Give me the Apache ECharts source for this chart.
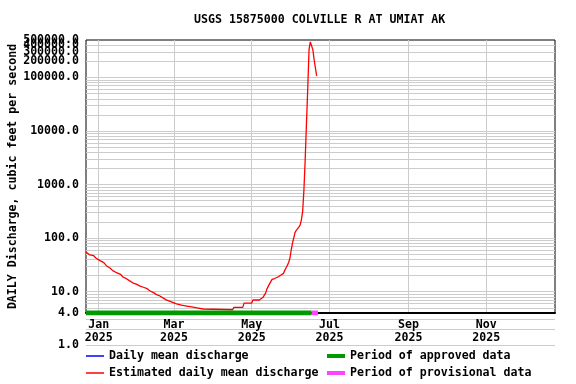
<!DOCTYPE html>
<html>
<head>
<meta charset="utf-8">
<script src="https://cdn.jsdelivr.net/npm/echarts@6/dist/echarts.min.js"></script>
<style>html,body{margin:0;padding:0;background:#fff}#c{width:576px;height:384px}</style>
</head>
<body>
<div id="c"></div>
<script>
const titleText = 'USGS 15875000 COLVILLE R AT UMIAT AK';
const yAxisName = 'DAILY Discharge, cubic feet per second';

// Estimated daily mean discharge
const estDates = [
  '2024-12-22','2024-12-25','2024-12-28','2024-12-30','2025-01-02','2025-01-05','2025-01-07','2025-01-10',
  '2025-01-12','2025-01-15','2025-01-18','2025-01-20','2025-01-23','2025-01-25','2025-01-28','2025-01-31',
  '2025-02-02','2025-02-05','2025-02-08','2025-02-10','2025-02-13','2025-02-15','2025-02-18','2025-02-21',
  '2025-02-23','2025-02-26','2025-03-01','2025-03-03','2025-03-07','2025-03-11','2025-03-15','2025-03-19',
  '2025-03-24','2025-03-25','2025-04-16','2025-04-17','2025-04-24','2025-04-25','2025-05-01','2025-05-02',
  '2025-05-07','2025-05-10','2025-05-12','2025-05-13','2025-05-15','2025-05-17','2025-05-19','2025-05-22',
  '2025-05-24','2025-05-26','2025-05-27','2025-05-28','2025-05-29','2025-05-30','2025-05-31','2025-06-01',
  '2025-06-02','2025-06-03','2025-06-04','2025-06-05','2025-06-06','2025-06-07','2025-06-08','2025-06-09',
  '2025-06-10','2025-06-11','2025-06-12','2025-06-13','2025-06-14','2025-06-15','2025-06-16','2025-06-17',
  '2025-06-18','2025-06-19','2025-06-20','2025-06-21'
];
const estValues = [
  55, 48.5, 47, 42, 38, 34.8, 30.6, 27.4,
  24.7, 22.6, 21.1, 18.8, 17.3, 16.1, 14.5, 13.7,
  12.8, 12.1, 11.4, 10.4, 9.6, 8.9, 8.3, 7.5,
  7.0, 6.6, 6.2, 5.9, 5.6, 5.4, 5.2, 5.0,
  4.75, 4.6, 4.6, 5.1, 5.1, 6.1, 6.1, 7.0,
  7.0, 7.9, 9.5, 11.3, 14.0, 17.0, 17.6, 19.0,
  20.5, 22, 25, 28, 31, 35, 42, 60,
  80, 100, 127, 140, 150, 160, 175, 220,
  313, 800, 3000, 14000, 63000, 330000, 460000, 460000,
  330000, 214000, 150000, 107000
];
// Daily mean discharge (approved) - none shown
const dailyDates = [];
const dailyValues = [];

const approvedPeriod = ['2024-12-22', '2025-06-17'];
const provisionalPeriod = ['2025-06-17', '2025-06-22'];
const periodLevel = 4;

const xMin = '2024-12-22';
const xMax = '2025-12-25';
const xTickDates = ['2025-01-01','2025-03-01','2025-05-01','2025-07-01','2025-09-01','2025-11-01'];
const monthNames = ['Jan','Feb','Mar','Apr','May','Jun','Jul','Aug','Sep','Oct','Nov','Dec'];

const yMin = 4, yMax = 500000;
const yLabelValues = [4, 10, 100, 1000, 10000, 100000, 200000, 499000];
const yLabelValuesB = [300000];
const yLabelValuesC = [400000];
const yGridValues = [5,6,7,8,9,10,20,30,40,50,60,70,80,90,100,200,300,400,500,600,700,800,900,
  1000,2000,3000,4000,5000,6000,7000,8000,9000,10000,20000,30000,40000,50000,60000,70000,80000,90000,
  100000,200000,300000,400000];
const yBelowGridValues = [1, 2, 3];
const yBelowLabelValues = [1];

const ts = s => { const p = s.split('-').map(Number); return new Date(p[0], p[1] - 1, p[2]).getTime(); };

const FONT = 'DejaVu Sans Mono';
const FS = 11.6;
const txt = { fontFamily: FONT, fontWeight: 'bold', fontSize: FS, color: '#000' };
const GRID_COLOR = '#cccccc';
const fmtY = v => (v >= 100000 ? Math.round(v / 100000) * 100000 : Math.round(v)).toFixed(1);

const extraLabelAxis = vals => ({
  type: 'log', gridIndex: 0, min: yMin, max: yMax, position: 'left', offset: 0,
  axisLine: { show: false }, axisTick: { show: false }, splitLine: { show: false },
  axisLabel: Object.assign({}, txt, { customValues: vals, margin: 7, hideOverlap: false, formatter: fmtY })
});

const chart = echarts.init(document.getElementById('c'), null, { renderer: 'canvas' });
chart.setOption({
  animation: false,
  backgroundColor: '#fff',
  title: {
    text: titleText, left: 194, top: 13, padding: 0,
    textStyle: Object.assign({}, txt, { lineHeight: 14 })
  },
  grid: [
    { left: 86, top: 40, width: 469, height: 273, show: true, borderColor: '#000', borderWidth: 1,
      containLabel: false, outerBoundsMode: 'none' },
    { left: 86, top: 313, width: 469, height: 32, show: false, containLabel: false, outerBoundsMode: 'none' }
  ],
  xAxis: [
    {
      type: 'value', gridIndex: 0, min: ts(xMin), max: ts(xMax), z: 3,
      axisLine: { show: true, lineStyle: { color: '#000', width: 2 } },
      axisTick: { show: false, customValues: xTickDates.map(ts) },
      axisLabel: Object.assign({}, txt, {
        customValues: xTickDates.map(ts), margin: 5, lineHeight: 13, hideOverlap: false,
        formatter: v => { const d = new Date(v); return monthNames[d.getMonth()] + '\n' + d.getFullYear(); }
      }),
      splitLine: { show: true, lineStyle: { color: GRID_COLOR, width: 1 } }
    },
    { type: 'value', gridIndex: 1, min: ts(xMin), max: ts(xMax), show: false }
  ],
  yAxis: [
    {
      type: 'log', gridIndex: 0, min: yMin, max: yMax, position: 'left',
      name: yAxisName, nameLocation: 'middle', nameGap: 67, nameMoveOverlap: false,
      nameTextStyle: Object.assign({}, txt),
      axisLine: { show: false },
      axisTick: { show: false, customValues: yGridValues },
      axisLabel: Object.assign({}, txt, {
        customValues: yLabelValues, margin: 7, hideOverlap: false, formatter: fmtY,
        showMaxLabel: true, showMinLabel: true
      }),
      splitLine: { show: true, lineStyle: { color: GRID_COLOR, width: 1 } }
    },
    {
      type: 'log', gridIndex: 1, min: 1, max: 4,
      axisLine: { show: false },
      axisTick: { show: false, customValues: yBelowGridValues },
      axisLabel: Object.assign({}, txt, {
        customValues: yBelowLabelValues, margin: 7, hideOverlap: false, formatter: fmtY
      }),
      splitLine: { show: true, lineStyle: { color: GRID_COLOR, width: 1 } }
    },
    extraLabelAxis(yLabelValuesB),
    extraLabelAxis(yLabelValuesC)
  ],
  legend: [
    {
      data: [{ name: 'Daily mean discharge', icon: 'rect' }, { name: 'Estimated daily mean discharge', icon: 'rect' }],
      orient: 'vertical', left: 86, top: 349, padding: 0, itemWidth: 18, itemHeight: 1.5, itemGap: 3,
      selectedMode: false, textStyle: Object.assign({}, txt, { lineHeight: 14 })
    },
    {
      data: [{ name: 'Period of approved data', icon: 'rect' }, { name: 'Period of provisional data', icon: 'rect' }],
      orient: 'vertical', left: 327, top: 349, padding: 0, itemWidth: 18, itemHeight: 4, itemGap: 3,
      selectedMode: false, textStyle: Object.assign({}, txt, { lineHeight: 14 })
    }
  ],
  series: [
    {
      name: 'Daily mean discharge', type: 'line', xAxisIndex: 0, yAxisIndex: 0,
      data: dailyDates.map((d, i) => [ts(d), dailyValues[i]]),
      color: '#0000ff', symbol: 'none', lineStyle: { width: 1.2 }
    },
    {
      name: 'Estimated daily mean discharge', type: 'line', xAxisIndex: 0, yAxisIndex: 0,
      data: estDates.map((d, i) => [ts(d), estValues[i]]),
      color: '#ff0000', symbol: 'none', lineStyle: { width: 1.3 }
    },
    {
      name: 'Period of approved data', type: 'line', xAxisIndex: 0, yAxisIndex: 0,
      data: approvedPeriod.map(d => [ts(d), periodLevel]),
      color: '#009900', symbol: 'none', lineStyle: { width: 5 }
    },
    {
      name: 'Period of provisional data', type: 'line', xAxisIndex: 0, yAxisIndex: 0,
      data: provisionalPeriod.map(d => [ts(d), periodLevel]),
      color: '#ff44ff', symbol: 'none', lineStyle: { width: 5 }
    }
  ]
});
</script>
</body>
</html>
